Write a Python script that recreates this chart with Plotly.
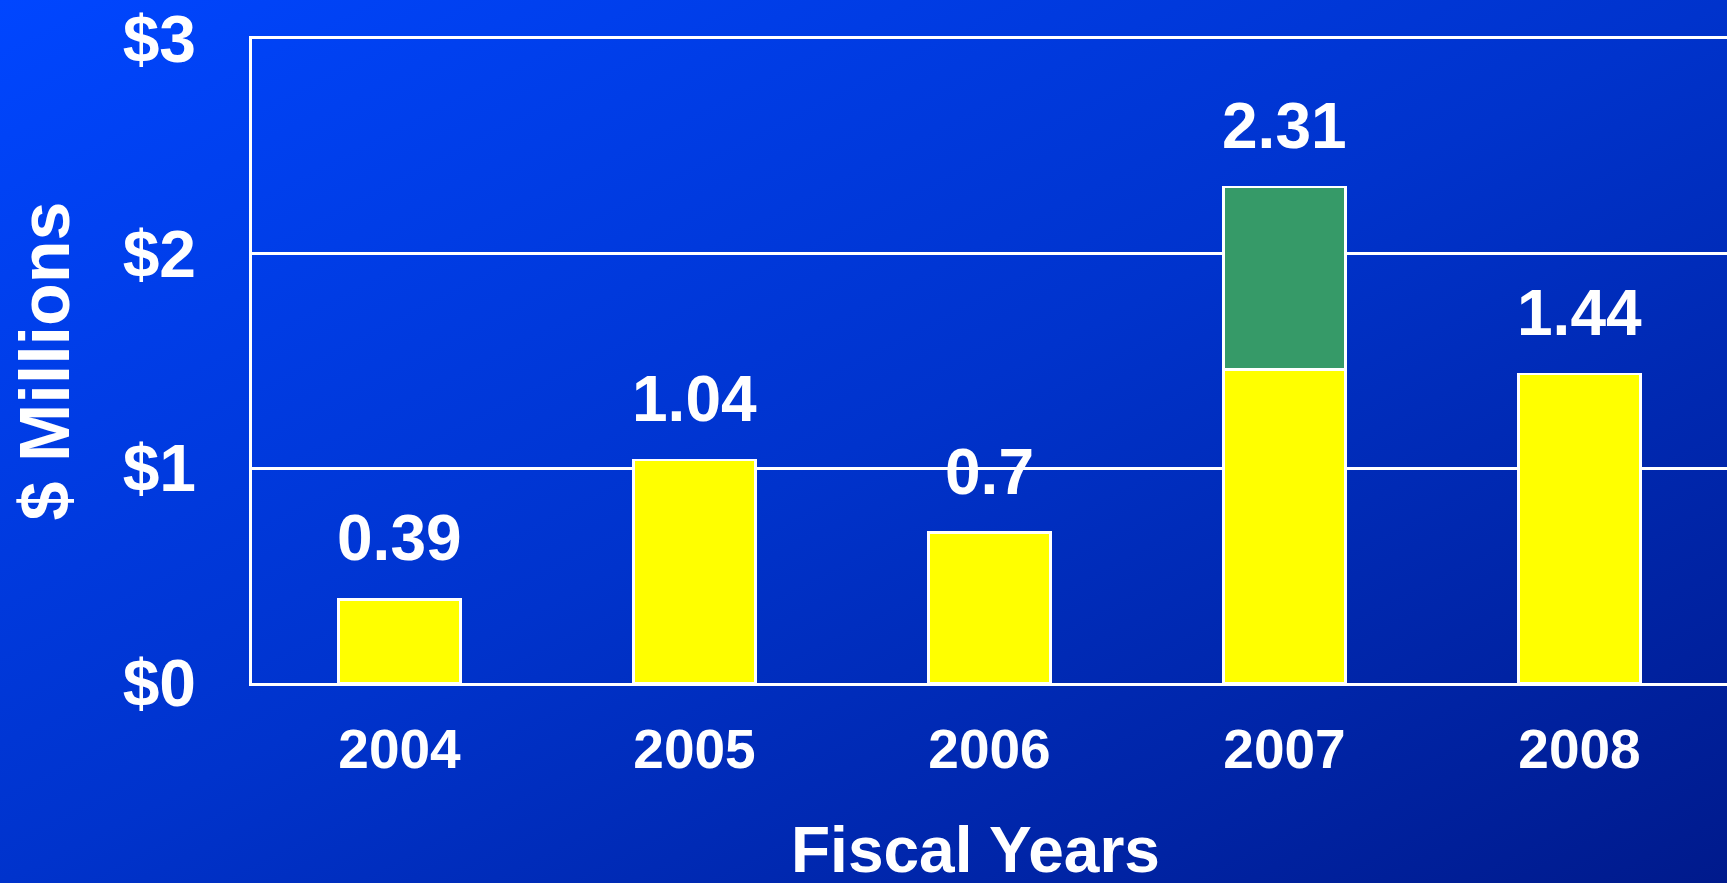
import base64
import plotly.graph_objects as go

years = ["2004", "2005", "2006", "2007", "2008"]
base_values = [0.39, 1.04, 0.70, 1.46, 1.44]
extra_values = [0, 0, 0, 0.85, 0]
total_labels = ["0.39", "1.04", "0.7", "2.31", "1.44"]
tick_vals = [0, 1, 2, 3]
tick_text = ["$0", "$1", "$2", "$3"]
x_title = "Fiscal Years"
y_title = "$ Millions"

W, H = 1727, 883
ML, MR, MT, MB = 252, 0, 39, 200
PW, PH = W - ML - MR, H - MT - MB

FONT = "Liberation Sans, Arial, sans-serif"

svg = f"""<svg xmlns='http://www.w3.org/2000/svg' width='{W}' height='{H}' viewBox='0 0 {W} {H}' preserveAspectRatio='none'>
<defs><linearGradient id='g' x1='0' y1='0' x2='1' y2='1'>
<stop offset='0' stop-color='#0046FF'/>
<stop offset='0.5' stop-color='#0033CC'/>
<stop offset='1' stop-color='#001A8C'/>
</linearGradient></defs>
<rect width='{W}' height='{H}' fill='url(#g)'/></svg>"""
bg_uri = "data:image/svg+xml;base64," + base64.b64encode(svg.encode()).decode()

fig = go.Figure()
fig.add_trace(go.Bar(
    x=years, y=base_values, marker=dict(color="#FFFF00", line=dict(color="white", width=2.5)),
    width=0.415, showlegend=False, hoverinfo="skip",
))
fig.add_trace(go.Bar(
    x=years, y=extra_values, marker=dict(color="#369A68", line=dict(color="white", width=2.5)),
    width=0.415, showlegend=False, hoverinfo="skip",
))

totals = [a + b for a, b in zip(base_values, extra_values)]
for i, (t, lab) in enumerate(zip(totals, total_labels)):
    fig.add_annotation(x=i, y=t, xref="x", yref="y", text=lab, showarrow=False,
                       yanchor="bottom", yshift=23,
                       font=dict(family=FONT, size=64, color="white", weight="bold"))

# x-axis title as a paper annotation (sits at the very bottom edge like the original)
fig.add_annotation(x=0.5, y=-167 / PH, xref="paper", yref="paper", text=x_title,
                   showarrow=False, xanchor="center", yanchor="middle", xshift=-14,
                   font=dict(family=FONT, size=64, color="white", weight="bold"))

fig.update_layout(
    width=W, height=H,
    margin=dict(l=ML, r=MR, t=MT, b=MB, pad=0, autoexpand=False),
    barmode="stack",
    paper_bgcolor="#0033CC",
    plot_bgcolor="rgba(0,0,0,0)",
    font=dict(family=FONT, color="white"),
    images=[dict(source=bg_uri, xref="paper", yref="paper",
                 x=-ML / PW, y=1 + MT / PH, sizex=W / PW, sizey=H / PH,
                 xanchor="left", yanchor="top", sizing="stretch", layer="below")],
    xaxis=dict(
        type="category", automargin=False,
        range=[-0.5, 4.5], showgrid=False, showline=True, mirror=True,
        linecolor="white", linewidth=2.5,
        ticks="", tickfont=dict(family=FONT, size=55, color="white", weight="bold"),
        ticklabelstandoff=16,
        fixedrange=True,
    ),
    yaxis=dict(
        automargin=False,
        range=[0, 3], tickvals=tick_vals, ticktext=tick_text,
        showgrid=True, gridcolor="white", gridwidth=2.5, zeroline=False,
        showline=True, linecolor="white", linewidth=2.5,
        ticks="", tickfont=dict(family=FONT, size=66, color="white", weight="bold"),
        ticklabelstandoff=40,
        title=dict(text=y_title, font=dict(family=FONT, size=70, color="white", weight="bold"),
                   standoff=31),
        fixedrange=True,
    ),
)

fig.write_html("out.html", config={"displayModeBar": False})
